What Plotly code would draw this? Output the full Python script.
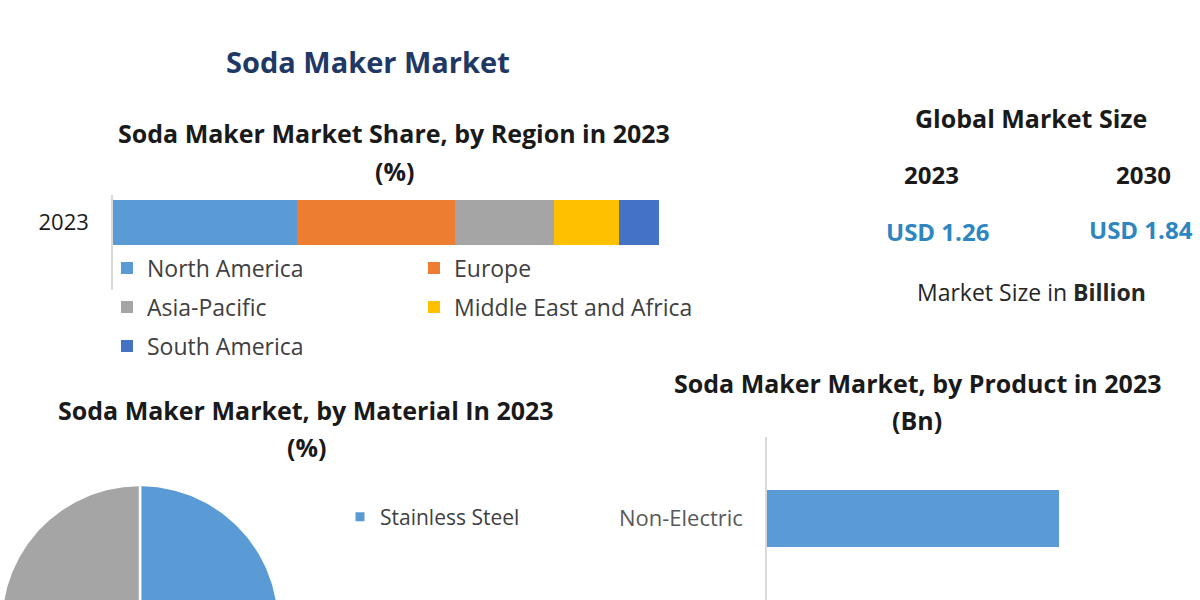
import numpy as np
import plotly.graph_objects as go

# ---------------- data ----------------
region_year = ["2023"]
regions = ["North America", "Europe", "Asia-Pacific", "Middle East and Africa", "South America"]
region_share = [33.7, 28.9, 18.1, 11.9, 7.4]
region_colors = ["#5b9bd5", "#ed7d31", "#a5a5a5", "#ffc000", "#4472c4"]

materials = ["Stainless Steel", "Plastic", "Glass"]
material_share = [40, 32, 28]
material_colors = ["#5b9bd5", "#ed7d31", "#a5a5a5"]

products = ["Non-Electric"]
product_value = [0.72]

size_years = ["2023", "2030"]
size_values = [1.26, 1.84]

W, H = 1200, 600
def px(x):
    return x / W
def py(y):
    return 1 - y / H

FONT = "Open Sans"
fig = go.Figure()

# ---------------- region stacked bar ----------------
row_legend = {"North America": "legend", "Europe": "legend",
              "Asia-Pacific": "legend2", "Middle East and Africa": "legend2",
              "South America": "legend3"}
for name, val, col in zip(regions, region_share, region_colors):
    fig.add_trace(go.Bar(
        x=[val], y=region_year, orientation="h", name=name,
        marker=dict(color=col, line=dict(width=0)), width=0.9,
        xaxis="x", yaxis="y", legend=row_legend[name],
    ))

# ---------------- product bar ----------------
fig.add_trace(go.Bar(
    x=product_value, y=products, orientation="h", name="Product",
    marker=dict(color="#5b9bd5", line=dict(width=0)), width=0.57,
    xaxis="x2", yaxis="y2", showlegend=False,
))

# ---------------- material pie (drawn as wedges, cropped by canvas) ----------------
R = 139
total = float(sum(material_share))
start = 0.0
for name, val, col in zip(materials, material_share, material_colors):
    a0 = start / total * 2 * np.pi
    a1 = (start + val) / total * 2 * np.pi
    th = np.linspace(a0, a1, 120)
    xs = np.concatenate([[0], R * np.sin(th), [0]])
    ys = np.concatenate([[0], R * np.cos(th), [0]])
    fig.add_trace(go.Scatter(
        x=xs, y=ys, mode="lines", fill="toself", fillcolor=col,
        line=dict(color="white", width=2.5), name=name, legendgroup=name,
        showlegend=False, xaxis="x3", yaxis="y3", hoverinfo="name",
    ))
    start += val
# legend entry for first material
fig.add_trace(go.Scatter(
    x=[None], y=[None], mode="markers", name=materials[0], legendgroup=materials[0],
    marker=dict(symbol="square", size=9, color=material_colors[0]),
    xaxis="x3", yaxis="y3", legend="legend4",
))

# ---------------- annotations ----------------
ann = []
def text(x, y, s, size, color="#1a1a1a", bold=True):
    ann.append(dict(x=px(x), y=py(y), xref="paper", yref="paper",
                    text=f"<b>{s}</b>" if bold else s, showarrow=False,
                    xanchor="center", yanchor="middle",
                    font=dict(family=FONT, size=size, color=color)))

text(368, 62, "Soda Maker Market", 29, "#1f3864")
text(394, 133, "Soda Maker Market Share, by Region in 2023", 25)
text(394, 171, "(%)", 25)
text(1031, 118, "Global Market Size", 25)
text(932, 174, size_years[0], 24)
text(1143, 174, size_years[1], 24)
text(937, 231, f"USD {size_values[0]:.2f}", 24, "#2e86c1")
text(1141, 230, f"USD {size_values[1]:.2f}", 24, "#2e86c1")
text(1031, 292, "Market Size in <b>Billion</b>", 23, "#262626", bold=False)
text(306, 410, "Soda Maker Market, by Material In 2023", 25)
text(306, 447, "(%)", 25)
text(917, 383, "Soda Maker Market, by Product in 2023", 25)
text(917, 420, "(Bn)", 25)

legend_common = dict(orientation="h", xanchor="left", yanchor="middle",
                     entrywidthmode="pixels", entrywidth=262,
                     bgcolor="rgba(0,0,0,0)", borderwidth=0,
                     font=dict(family=FONT, size=23, color="#404040"),
                     itemclick=False, itemdoubleclick=False, traceorder="normal")

fig.update_layout(
    width=W, height=H, autosize=False,
    margin=dict(l=0, r=0, t=0, b=0, pad=0, autoexpand=False),
    paper_bgcolor="white", plot_bgcolor="rgba(0,0,0,0)",
    barmode="stack", bargap=0,
    font=dict(family=FONT),
    annotations=ann,
    showlegend=True,
    legend=dict(x=px(107), y=py(268), **legend_common),
    legend2=dict(x=px(107), y=py(307), **legend_common),
    legend3=dict(x=px(107), y=py(346), **legend_common),
    legend4=dict(x=px(340), y=py(517), **{**legend_common, "font": dict(family=FONT, size=21, color="#404040")}),
    xaxis=dict(domain=[px(113), px(659)], range=[0, 100], visible=False,
               anchor="y", automargin=False, fixedrange=True),
    yaxis=dict(domain=[py(290), py(195)], type="category", range=[-1.36, 0.54],
               anchor="x", automargin=False,
               showline=True, linecolor="#d9d9d9", linewidth=1.5, ticks="",
               showgrid=False, zeroline=False, ticklabelstandoff=18,
               tickfont=dict(family=FONT, size=22, color="#1a1a1a"), fixedrange=True),
    xaxis2=dict(domain=[px(767), 1], range=[0, product_value[0] * 433 / 292],
                anchor="y2", automargin=False, visible=False, fixedrange=True),
    yaxis2=dict(domain=[0, py(437)], type="category", range=[-0.82, 0.81],
                anchor="x2", automargin=False,
                showline=True, linecolor="#d9d9d9", linewidth=1.5, ticks="",
                showgrid=False, zeroline=False, ticklabelstandoff=18,
                tickfont=dict(family=FONT, size=22, color="#595959"), fixedrange=True),
    xaxis3=dict(domain=[0, px(300)], range=[-140, 160], anchor="y3",
                automargin=False, visible=False, fixedrange=True),
    yaxis3=dict(domain=[0, py(470)], range=[24, 154], anchor="x3",
                automargin=False, visible=False, fixedrange=True),
)

fig.write_html("out.html", config={"displayModeBar": False},
               post_script="document.body.style.margin='0px';")
